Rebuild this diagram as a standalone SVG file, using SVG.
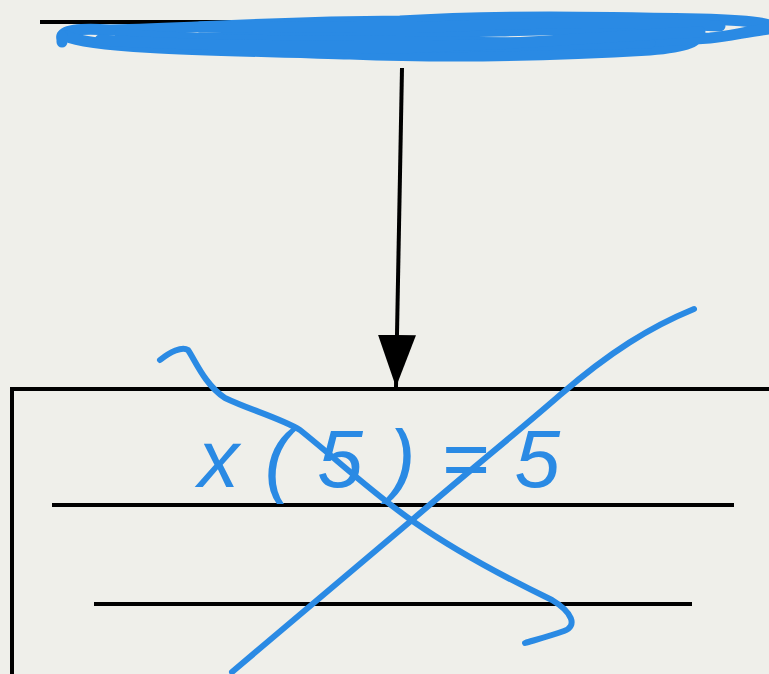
<svg xmlns="http://www.w3.org/2000/svg" width="769" height="674" viewBox="0 0 769 674">
<defs>
<style>
.ink{fill:none;stroke:#000;stroke-width:4;}
.blue{fill:none;stroke:#2A8AE4;stroke-linecap:round;stroke-linejoin:round;}
.hand{font-family:"Liberation Sans","DejaVu Sans",sans-serif;font-style:italic;font-size:82px;fill:#2A8AE4;}
</style>
<marker id="ah" viewBox="0 0 52 38" refX="52" refY="19" markerWidth="52" markerHeight="38" markerUnits="userSpaceOnUse" orient="auto">
<path d="M0,0 L52,19 L0,38 Z" fill="#000"/>
</marker>
</defs>
<rect width="769" height="674" fill="#EFEFEA"/>
<g id="top-node">
<line class="ink" x1="40" y1="22" x2="769" y2="22"/>
<g class="blue" stroke-width="11">
<path d="M62,38 C60,30 80,28 110,30 C200,28 260,22 400,21 C500,15 600,17 700,19 C740,20 760,22 769,25"/>
<path d="M66,36 C90,48 200,50 350,54 C450,58 550,56 650,50 C690,47 700,40 695,35 C680,30 600,28 500,31 C400,33 300,36 200,38"/>
<path d="M120,34 C250,44 350,40 450,42 C550,44 650,42 710,38 C730,36 750,31 769,29"/>
<path d="M330,49 C450,47 550,45 650,43"/>
<path d="M200,27 C300,25 380,29 460,26 C560,21 640,23 720,26"/>
<path d="M100,40 C200,46 300,46 400,46 C500,47 600,36 700,32"/>
<path d="M62,36 L62,42"/>
</g>
</g>
<g id="connectors">
<path class="ink" d="M402,68 L396,387" marker-end="url(#ah)"/>
</g>
<g id="bottom-node">
<path class="ink" d="M771,389 L12,389 L12,676"/>
<line class="ink" x1="52" y1="505" x2="734" y2="505"/>
<line class="ink" x1="94" y1="604" x2="692" y2="604"/>
<text class="hand" x="198" y="487" textLength="362" lengthAdjust="spacing">x(5)=5</text>
<g class="blue" stroke-width="6">
<path d="M232,672 L412,520 C470,470 520,430 560,395 C610,352 650,327 694,309"/>
<path d="M160,360 C170,352 182,346 188,350 C195,360 205,385 225,398 C250,410 280,418 300,430 C335,458 375,495 414,522 C450,547 500,575 552,600 C572,612 578,626 564,631 C550,636 535,640 525,643"/>
</g>
</g>
</svg>
